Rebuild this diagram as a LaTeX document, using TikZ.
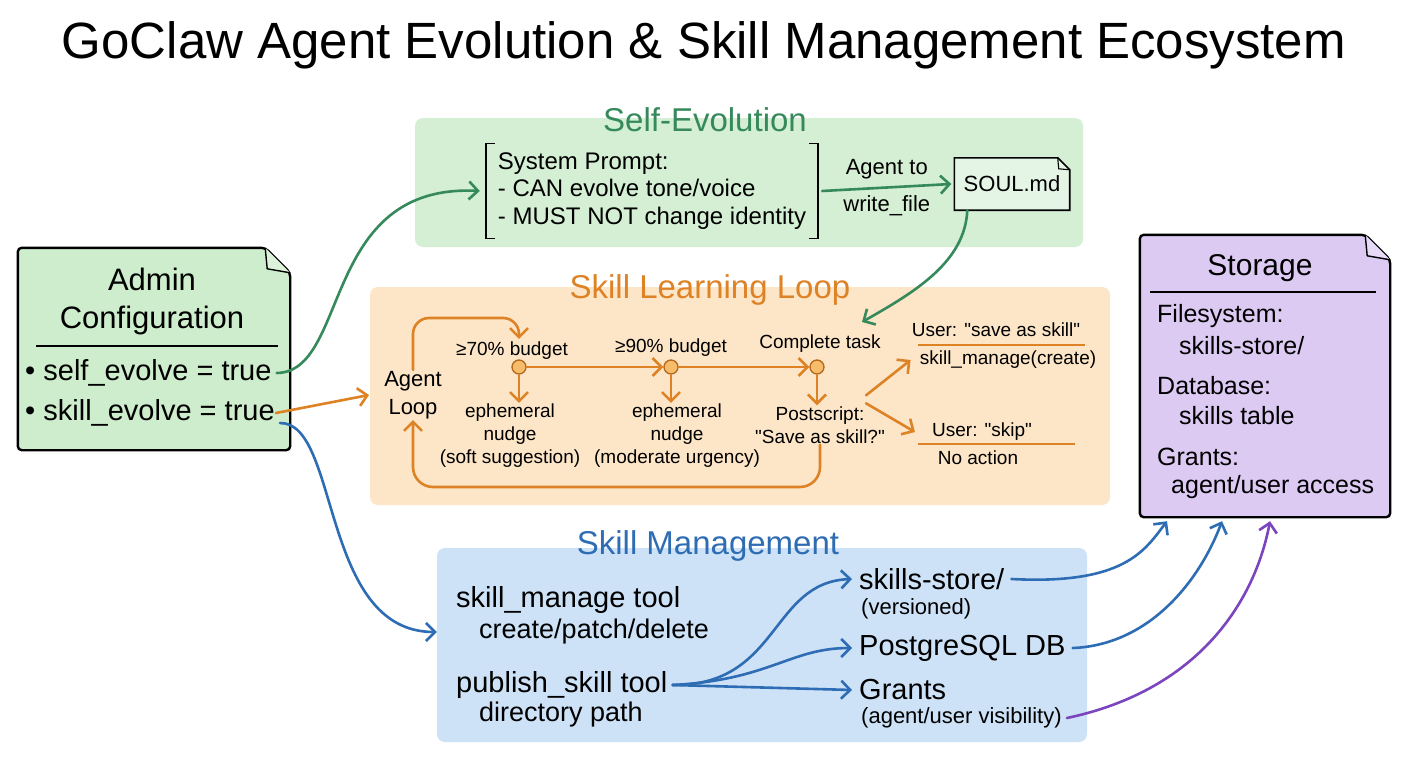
\documentclass[tikz,border=0pt]{standalone}
\usepackage{fontspec}
\setmainfont{Liberation Sans}[Ligatures=TeXOff]
\usetikzlibrary{arrows.meta,positioning}

\definecolor{evogreen}{HTML}{35895A}
\definecolor{evofill}{HTML}{D4EFD3}
\definecolor{adminfill}{HTML}{CDEDCC}
\definecolor{loopor}{HTML}{DE8226}
\definecolor{loopfill}{HTML}{FDE6C8}
\definecolor{loopdot}{HTML}{F6BC6A}
\definecolor{mgblue}{HTML}{2E6CB3}
\definecolor{mgfill}{HTML}{CDE2F7}
\definecolor{storpurple}{HTML}{7A45BE}
\definecolor{storfill}{HTML}{DCCAF3}

\tikzset{
  bigtitle/.style={font=\fontsize{51}{58}\selectfont},
  sectitle/.style={font=\fontsize{33}{38}\selectfont},
  cfgtitle/.style={font=\fontsize{31}{38}\selectfont, align=center},
  cfgtext/.style={font=\fontsize{29}{34}\selectfont, anchor=west},
  prompttext/.style={font=\fontsize{24}{27.5}\selectfont, align=left},
  looptext/.style={font=\fontsize{19}{23}\selectfont, align=center},
  mgtext/.style={font=\fontsize{29}{32}\selectfont, anchor=west},
  mgsmall/.style={font=\fontsize{22}{25}\selectfont, anchor=west},
  stortext/.style={font=\fontsize{25}{30}\selectfont, anchor=west},
  flow/.style={line width=2.6pt, line cap=round, -{Straight Barb[length=9pt,width=18pt]}},
  stage/.style={circle, draw=loopor!80!black, fill=loopdot, line width=1.3pt, minimum size=14pt, inner sep=0pt},
  panel/.style={rounded corners=8pt, inner sep=0pt}
}

\begin{document}
\begin{tikzpicture}[x=1pt,y=-1pt, every node/.style={inner sep=1pt}]
\useasboundingbox (0,0) rectangle (1408,768);
\fill[white] (0,0) rectangle (1408,768);

\node[bigtitle] (title) at (704,45) {GoClaw Agent Evolution \& Skill Management Ecosystem};

% panels
\node[panel, fill=evofill, minimum width=668pt, minimum height=129pt] (evo) at (749,182.5) {};
\node[panel, fill=loopfill, minimum width=740pt, minimum height=218pt] (loop) at (740,396) {};
\node[panel, fill=mgfill, minimum width=650pt, minimum height=194pt] (mgmt) at (762,645) {};
\node[sectitle, text=evogreen] (evotitle) at (705,120) {Self-Evolution};
\node[sectitle, text=loopor] (looptitle) at (710,290) {Skill Learning Loop};
\node[sectitle, text=mgblue] (mgtitle) at (708,546) {Skill Management};

% admin configuration
\node[minimum width=272pt, minimum height=202pt, inner sep=0pt] (admin) at (154,349) {};
\filldraw[fill=adminfill, line width=2.4pt, rounded corners=4pt] (admin.south west) -- (admin.north west) -- ([xshift=-25pt]admin.north east) -- ([yshift=-25pt]admin.north east) -- (admin.south east) -- cycle;
\filldraw[line width=1.4pt, fill=adminfill!70!white, line join=round] ([xshift=-25pt]admin.north east) -- ([xshift=-23pt,yshift=-21pt]admin.north east) -- ([yshift=-25pt]admin.north east);
\node[cfgtitle] (admintitle) at (152,301) {Admin\\Configuration};
\draw[line width=1.6pt] (36,346) -- (278,346);
\node[cfgtext] (selfev) at (24,373) {\textbullet\ self\_evolve = true};
\node[cfgtext] (skillev) at (24,413) {\textbullet\ skill\_evolve = true};

% self-evolution
\node[prompttext, inner xsep=12pt, inner ysep=9pt] (prompt) at (652,191) {System Prompt:\\- CAN evolve tone/voice\\- MUST NOT change identity};
\draw[line width=1.8pt] ([xshift=9pt]prompt.north west) -- (prompt.north west) -- (prompt.south west) -- ([xshift=9pt]prompt.south west);
\draw[line width=1.8pt] ([xshift=-9pt]prompt.north east) -- (prompt.north east) -- (prompt.south east) -- ([xshift=-9pt]prompt.south east);
\node[font=\fontsize{22}{26}\selectfont, minimum width=115pt, minimum height=52pt] (soul) at (1012,184) {SOUL.md};
\filldraw[fill=evofill!60!white, line width=1.6pt] (soul.south west) -- (soul.north west) -- ([xshift=-12pt]soul.north east) -- ([yshift=-12pt]soul.north east) -- (soul.south east) -- cycle;
\draw[line width=1.1pt] ([xshift=-12pt]soul.north east) -- ([xshift=-11pt,yshift=-11pt]soul.north east) -- ([yshift=-12pt]soul.north east);
\node[font=\fontsize{22}{26}\selectfont] at (soul) {SOUL.md};
\draw[flow, evogreen] ([xshift=4pt]prompt.east) -- node[above=6pt, font=\fontsize{22}{26}\selectfont, text=black]{Agent to} node[below=6pt, font=\fontsize{22}{26}\selectfont, text=black]{write\_file} ([xshift=-3pt]soul.west);

% skill learning loop
\node[looptext, font=\fontsize{22}{28}\selectfont] (agent) at (413,395) {Agent\\Loop};
\node[stage] (d1) at (519,367) {};
\node[stage] (d2) at (671,367) {};
\node[stage] (d3) at (817,367) {};
\node[looptext] (b70) at (512,351) {≥70\% budget};
\node[looptext] (b90) at (671,348) {≥90\% budget};
\node[looptext] (ctask) at (820,344) {Complete task};
\node[looptext] (nudge1) at (510,436) {ephemeral\\nudge\\(soft suggestion)};
\node[looptext] (nudge2) at (677,436) {ephemeral\\nudge\\(moderate urgency)};
\node[looptext] (post) at (820,425) {Postscript:\\"Save as skill?"};
\node[looptext] (usersave) at (996,330) {User: "save as skill"};
\node[looptext] (savecreate) at (1008,360) {skill\_manage(create)};
\node[looptext] (userskip) at (982,432) {User: "skip"};
\node[looptext] (noaction) at (978,458) {No action};
\draw[loopor, line width=2.4pt] (918,345) -- (1085,345);
\draw[loopor, line width=2.4pt] (918,444) -- (1075,444);

\coordinate (uprun) at (0,318);
\coordinate (botrun) at (0,487);
\draw[flow, loopor, rounded corners=16pt] (agent.north) -- (agent.north |- uprun) -- (d1 |- uprun) -- ([yshift=2pt]b70.north -| d1);
\draw[flow, loopor] (d1) -- (d2);
\draw[flow, loopor] (d2) -- (d3);
\draw[flow, loopor] (d1) -- (nudge1.north -| d1);
\draw[flow, loopor] (d2) -- (nudge2.north -| d2);
\draw[flow, loopor] (d3) -- (post.north -| d3);
\draw[flow, loopor] ([xshift=-20pt,yshift=10pt]post.north east) -- ([xshift=-8pt]savecreate.west);
\draw[flow, loopor] ([xshift=-20pt,yshift=2pt]post.north east) -- ([xshift=-16pt]userskip.west);
\draw[flow, loopor, rounded corners=20pt] (post.south) -- (post.south |- botrun) -- (agent.south |- botrun) -- (agent.south);
\draw[flow, loopor] (skillev.east) -- ([xshift=-14pt]agent.west);

% skill management
\node[mgtext] (manage) at (455,600) {skill\_manage tool};
\node[mgtext, font=\fontsize{27}{30}\selectfont] (managesub) at (478,632) {create/patch/delete};
\node[mgtext] (publish) at (455,685) {publish\_skill tool};
\node[mgtext, font=\fontsize{27}{30}\selectfont] (publishsub) at (478,715) {directory path};
\node[mgtext] (store) at (858,579) {skills-store/};
\node[mgsmall] (storesub) at (860,609) {(versioned)};
\node[mgtext] (pg) at (858,648) {PostgreSQL DB};
\node[mgtext] (grants) at (858,690) {Grants};
\node[mgsmall] (grantsub) at (860,718) {(agent/user visibility)};
\draw[flow, mgblue] ([xshift=4pt]publish.east) .. controls (780,686) and (770,582) .. ([xshift=-6pt]store.west);
\draw[flow, mgblue] ([xshift=4pt]publish.east) .. controls (770,680) and (790,648) .. ([xshift=-6pt]pg.west);
\draw[flow, mgblue] ([xshift=4pt]publish.east) -- ([xshift=-6pt]grants.west);

% storage
\node[minimum width=250pt, minimum height=282pt, inner sep=0pt] (storage) at (1265,376) {};
\filldraw[fill=storfill, line width=2.4pt, rounded corners=4pt] (storage.south west) -- (storage.north west) -- ([xshift=-25pt]storage.north east) -- ([yshift=-25pt]storage.north east) -- (storage.south east) -- cycle;
\filldraw[line width=1.4pt, fill=storfill!70!white, line join=round] ([xshift=-25pt]storage.north east) -- ([xshift=-23pt,yshift=-21pt]storage.north east) -- ([yshift=-25pt]storage.north east);
\node[font=\fontsize{30}{34}\selectfont] (stortitle) at (1260,268) {Storage};
\draw[line width=1.6pt] (1150,292) -- (1376,292);
\node[stortext] (fs) at (1156,316) {Filesystem:};
\node[stortext] (fsdir) at (1178,346) {skills-store/};
\node[stortext] (db) at (1156,386) {Database:};
\node[stortext] (dbtable) at (1178,416) {skills table};
\node[stortext] (gr) at (1156,457) {Grants:};
\node[stortext] (gracc) at (1170,487) {agent/user access};

% connectors between sections
\coordinate (looptop) at (862,322);
\draw[flow, evogreen] ([xshift=4pt]selfev.east) .. controls (350,372) and (320,183) .. ([xshift=-6pt]prompt.west);
\draw[flow, evogreen] ([xshift=13pt]soul.south west) .. controls (965,262) and (915,292) .. (looptop);
\draw[flow, mgblue] ([xshift=4pt,yshift=-10pt]skillev.east) .. controls (340,422) and (320,632) .. ([yshift=13pt]mgmt.west);
\draw[flow, mgblue] ([xshift=6pt]store.east) .. controls (1125,585) and (1145,550) .. ([xshift=-98pt,yshift=-4pt]storage.south);
\draw[flow, mgblue] ([xshift=6pt]pg.east) .. controls (1150,645) and (1200,580) .. ([xshift=-43pt,yshift=-4pt]storage.south);
\draw[flow, storpurple] ([xshift=4pt]grantsub.east) .. controls (1200,690) and (1255,600) .. ([xshift=5pt,yshift=-4pt]storage.south);
\end{tikzpicture}
\end{document}
